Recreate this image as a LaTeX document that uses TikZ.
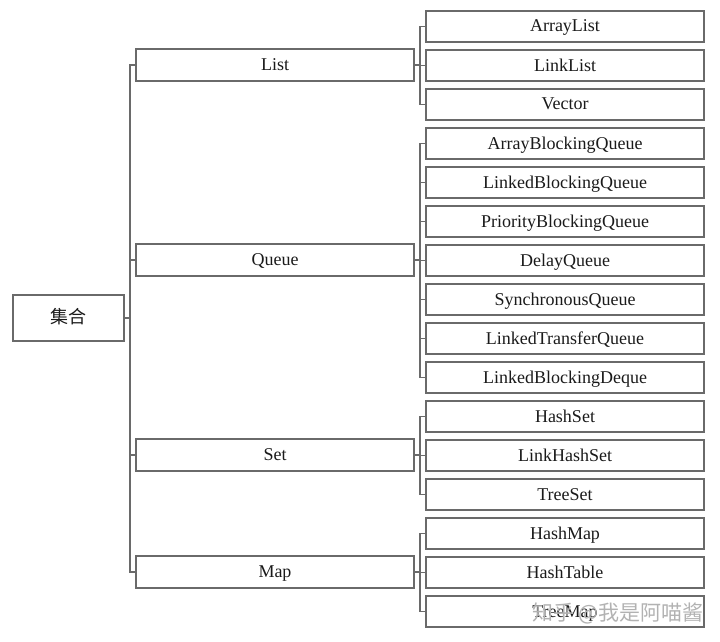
\documentclass[tikz,border=0pt]{standalone}
\usepackage{fontspec}
\setmainfont{Liberation Serif}
\newfontfamily\cjk{Noto Sans CJK SC}
\definecolor{linec}{HTML}{6A6A6A}
\definecolor{txt}{HTML}{1A1A1A}
\tikzset{
  box/.style={draw=linec, line width=1.1pt, rectangle, inner sep=0pt, text=txt, font=\fontsize{18}{20}\selectfont, text height=14pt, text depth=3pt},
  rootbox/.style={box, minimum width=111pt, minimum height=46pt},
  midbox/.style={box, minimum width=278pt, minimum height=32pt},
  leafbox/.style={box, minimum width=278pt, minimum height=31pt},
  conn/.style={draw=linec, line width=1.1pt}
}
\begin{document}
\begin{tikzpicture}[x=1pt,y=-1pt]
\useasboundingbox (0,0) rectangle (720,642);
\node[rootbox] (root) at (68.5,318) {\cjk 集合};
\node[midbox] (List) at (275,65) {List};
\node[midbox] (Queue) at (275,260) {Queue};
\node[midbox] (Set) at (275,455) {Set};
\node[midbox] (Map) at (275,572) {Map};
\foreach \n/\t [count=\i from 0] in {l0/ArrayList,l1/LinkList,l2/Vector,l3/ArrayBlockingQueue,l4/LinkedBlockingQueue,l5/PriorityBlockingQueue,l6/DelayQueue,l7/SynchronousQueue,l8/LinkedTransferQueue,l9/LinkedBlockingDeque,l10/HashSet,l11/LinkHashSet,l12/TreeSet,l13/HashMap,l14/HashTable,l15/TreeMap}
  \node[leafbox] (\n) at (565,{26.5+39*\i}) {\t};
\coordinate (tr) at (130,0);
\coordinate (br) at (420,0);
% trunk
\draw[conn] (root.east) -- (root.east -| tr);
\draw[conn] (List.west) -- (List.west -| tr) |- (Map.west);
\draw[conn] (Queue.west) -- (Queue.west -| tr);
\draw[conn] (Set.west) -- (Set.west -| tr);
% List group
\draw[conn] (List.east) -- (List.east -| br);
\draw[conn] (l0.west) -- (l0.west -| br) |- (l2.west);
\draw[conn] (l1.west) -- (l1.west -| br);
% Queue group
\draw[conn] (Queue.east) -- (Queue.east -| br);
\draw[conn] (l3.west) -- (l3.west -| br) |- (l9.west);
\foreach \k in {4,5,6,7,8} \draw[conn] (l\k.west) -- (l\k.west -| br);
% Set group
\draw[conn] (Set.east) -- (Set.east -| br);
\draw[conn] (l10.west) -- (l10.west -| br) |- (l12.west);
\draw[conn] (l11.west) -- (l11.west -| br);
% Map group
\draw[conn] (Map.east) -- (Map.east -| br);
\draw[conn] (l13.west) -- (l13.west -| br) |- (l15.west);
\draw[conn] (l14.west) -- (l14.west -| br);
% watermark
\node[anchor=east, text=black!30, font=\cjk\fontsize{21}{22}\selectfont, inner sep=0pt] (wm) at (704,613) {知乎 @我是阿喵酱};
\end{tikzpicture}
\end{document}
